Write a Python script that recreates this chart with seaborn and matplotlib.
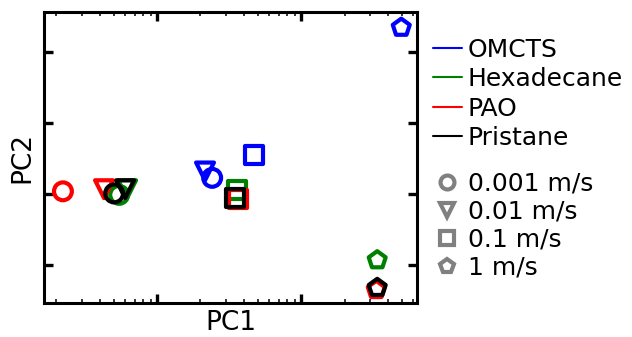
import pandas as pd
import matplotlib
matplotlib.use('Agg')
import matplotlib.pyplot as plt
from matplotlib.lines import Line2D
from matplotlib.ticker import FixedLocator, NullLocator
import seaborn as sns

# Data (PC1 is on a log axis)
fluids = ['OMCTS', 'Hexadecane', 'PAO', 'Pristane']
speeds = ['0.001 m/s', '0.01 m/s', '0.1 m/s', '1 m/s']
omcts_pc1 = [2.41, 2.15, 4.72, 49.5]
omcts_pc2 = [1.23, 1.32, 1.55, 3.35]
hexadecane_pc1 = [0.545, 0.619, 3.59, 33.7]
hexadecane_pc2 = [0.99, 1.07, 1.06, 0.07]
pao_pc1 = [0.222, 0.428, 3.65, 33.2]
pao_pc2 = [1.04, 1.07, 0.93, -0.35]
pristane_pc1 = [0.503, 0.600, 3.48, 33.7]
pristane_pc2 = [1.01, 1.07, 0.94, -0.32]

colors = {'OMCTS': '#0000ff', 'Hexadecane': '#008000', 'PAO': '#ff0000', 'Pristane': '#000000'}
markers = {'0.001 m/s': 'o', '0.01 m/s': 'v', '0.1 m/s': 's', '1 m/s': 'p'}

# Build long table
rows = []
for fluid, xs, ys in zip(fluids,
                         [omcts_pc1, hexadecane_pc1, pao_pc1, pristane_pc1],
                         [omcts_pc2, hexadecane_pc2, pao_pc2, pristane_pc2]):
    for sp, x, y in zip(speeds, xs, ys):
        rows.append({'Fluid': fluid, 'Speed': sp, 'PC1': x, 'PC2': y})
df = pd.DataFrame(rows)

sns.set_theme(style='white')
plt.rcParams['font.family'] = ['DejaVu Sans']
plt.rcParams['text.color'] = 'black'
plt.rcParams['axes.labelcolor'] = 'black'

fig = plt.figure(figsize=(6.32, 3.37), dpi=100)
ax = fig.add_axes([0.0696, 0.101, 0.5906, 0.862])

sns.scatterplot(data=df, x='PC1', y='PC2', hue='Fluid', style='Speed',
                palette=colors, markers=markers, s=165, linewidth=3,
                legend=False, ax=ax)

# hollow markers: move fill colour to the edge
pts = ax.collections[0]
fc = pts.get_facecolors()
pts.set_edgecolors(fc)
pts.set_facecolors('none')

ax.set_xscale('log')
ax.set_xlim(0.164, 63.9)
ax.set_ylim(-0.535, 3.563)
ax.xaxis.set_major_locator(FixedLocator([1, 10]))
ax.xaxis.set_minor_locator(FixedLocator([0.2, 0.3, 0.4, 0.5, 0.6, 0.7, 0.8, 0.9,
                                         2, 3, 4, 5, 6, 7, 8, 9,
                                         20, 30, 40, 50, 60]))
ax.yaxis.set_major_locator(FixedLocator([0, 1, 2, 3]))
ax.yaxis.set_minor_locator(NullLocator())
ax.set_xlabel('PC1', fontsize=19, labelpad=5)
ax.set_ylabel('PC2', fontsize=19, labelpad=6)

for sp in ax.spines.values():
    sp.set_linewidth(2.2)
    sp.set_color('black')
ax.tick_params(which='both', direction='in', top=True, right=True,
               bottom=True, left=True,
               labelbottom=False, labelleft=False, color='black')
ax.tick_params(which='major', length=6.5, width=2.4)
ax.tick_params(which='minor', length=3, width=1.1)

# Legends
fluid_handles = [Line2D([], [], color=colors[f], lw=1.5) for f in fluids]
leg1 = fig.legend(fluid_handles, fluids, loc='upper left',
                  bbox_to_anchor=(0.685, 0.888), frameon=False,
                  fontsize=18, handlelength=1.16, handletextpad=0.24,
                  labelspacing=0.22, borderpad=0, borderaxespad=0)
speed_handles = [Line2D([], [], color='gray', marker=markers[s], ls='none',
                        mfc='none', mec='gray', mew=3, markersize=10)
                 for s in speeds]
leg2 = fig.legend(speed_handles, speeds, loc='upper left',
                  bbox_to_anchor=(0.685, 0.49), frameon=False,
                  fontsize=18, handlelength=1.16, handletextpad=0.24,
                  labelspacing=0.16, borderpad=0, borderaxespad=0)

fig.savefig('out.png', dpi=100)
